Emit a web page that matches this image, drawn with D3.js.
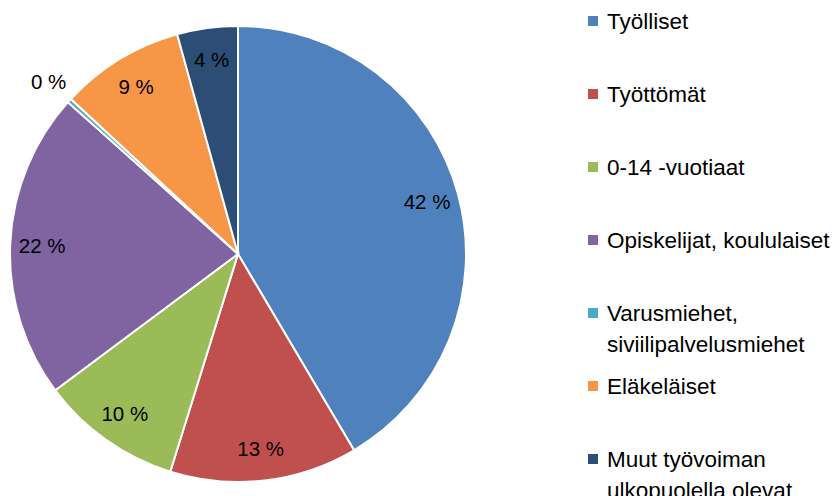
<!DOCTYPE html>
<html>
<head>
<meta charset="utf-8">
<script src="https://cdn.jsdelivr.net/npm/d3@7"></script>
<style>
  body { margin: 0; background: #fff; }
  text { font-family: "Liberation Sans", Arial, sans-serif; fill: #000; }
</style>
</head>
<body>
<div id="chart"></div>
<script>
// Data
const categories = ['Työlliset', 'Työttömät', '0-14 -vuotiaat', 'Opiskelijat, koululaiset',
    'Varusmiehet, siviilipalvelusmiehet', 'Eläkeläiset', 'Muut työvoiman ulkopuolella olevat'];
const legendLines = [['Työlliset'], ['Työttömät'], ['0-14 -vuotiaat'], ['Opiskelijat, koululaiset'],
    ['Varusmiehet,', 'siviilipalvelusmiehet'], ['Eläkeläiset'], ['Muut työvoiman', 'ulkopuolella olevat']];
const values = [41.5, 13.3, 10.0, 21.8, 0.3, 8.8, 4.3];
const labels = ['42 %', '13 %', '10 %', '22 %', '0 %', '9 %', '4 %'];
const colors = ['#4F81BD', '#C0504D', '#9BBB59', '#8064A2', '#4BACC6', '#F79646', '#2C4D75'];

const width = 838, height = 496;
const cx = 238, cy = 254, radius = 228;

const svg = d3.select('#chart')
    .append('svg')
    .attr('width', width)
    .attr('height', height);

const data = categories.map((c, i) => ({ name: c, value: values[i], label: labels[i], color: colors[i] }));

const pie = d3.pie().value(d => d.value).sort(null);
const arc = d3.arc().innerRadius(0).outerRadius(radius);
const labelArc = d3.arc().innerRadius(196).outerRadius(196);
const outerLabelArc = d3.arc().innerRadius(256).outerRadius(256);

const g = svg.append('g').attr('transform', `translate(${cx},${cy})`);
const arcs = pie(data);

// Slices
g.selectAll('path')
    .data(arcs)
    .enter()
    .append('path')
    .attr('d', arc)
    .attr('fill', d => d.data.color)
    .attr('stroke', '#fff')
    .attr('stroke-width', 2);

// Slice labels (tiny slice goes outside)
g.selectAll('text.lbl')
    .data(arcs)
    .enter()
    .append('text')
    .attr('class', 'lbl')
    .attr('transform', d => {
        const p = (d.data.value < 1 ? outerLabelArc : labelArc).centroid(d);
        return `translate(${p[0]},${p[1]})`;
    })
    .attr('text-anchor', 'middle')
    .attr('dy', '0.35em')
    .style('font-size', '20.5px')
    .text(d => d.data.label);

// Legend
const yLegend = d3.scalePoint()
    .domain(categories)
    .range([21, 459]);

const legend = svg.append('g').attr('class', 'legend');
const item = legend.selectAll('g')
    .data(data)
    .enter()
    .append('g')
    .attr('transform', d => `translate(588,${yLegend(d.name)})`);

item.append('rect')
    .attr('x', 0)
    .attr('y', -5)
    .attr('width', 10)
    .attr('height', 10)
    .attr('fill', d => d.color);

item.append('text')
    .style('font-size', '22.5px')
    .selectAll('tspan')
    .data((d, i) => legendLines[i])
    .enter()
    .append('tspan')
    .attr('x', 19)
    .attr('y', (d, i) => i * 31)
    .attr('dy', '0.35em')
    .text(d => d);
</script>
</body>
</html>
